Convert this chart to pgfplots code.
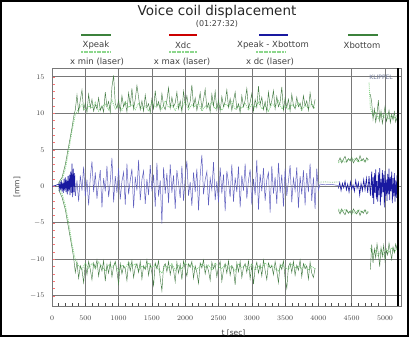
\documentclass[border=0pt]{standalone}
\usepackage{fontspec}
\setmainfont{DejaVu Sans}
\usepackage{pgfplots}
\pgfplotsset{compat=1.18}
\definecolor{dkgreen}{RGB}{70,125,70}
\definecolor{ltgreen}{RGB}{140,215,140}
\definecolor{legdkgreen}{RGB}{60,130,60}
\definecolor{bluetr}{RGB}{95,95,190}
\definecolor{bluedk}{RGB}{25,25,160}
\definecolor{gridgray}{RGB}{120,120,120}
\definecolor{klippel}{RGB}{110,120,150}
\begin{document}
\begin{tikzpicture}[x=1pt,y=1pt]
\useasboundingbox (0,0) rectangle (409,337);
\draw[line width=2.4pt] (1.2,1.2) rectangle (407.8,335.8);
% title
\node[font=\fontsize{13.5}{15}\selectfont, text=black!85] at (217,325) {Voice coil displacement};
\node[font=\fontsize{8}{9}\selectfont, text=black!75] at (217,313.5) {(01:27:32)};
% legend row 1
\draw[legdkgreen, line width=2.6pt] (81,302) -- (111,302);
\node[font=\fontsize{8.5}{9}\selectfont, text=black!75] at (96,292) {Xpeak};
\draw[red!80!black, line width=2.6pt] (169,302) -- (197,302);
\node[font=\fontsize{8.5}{9}\selectfont, text=black!75] at (183,292) {Xdc};
\draw[bluedk, line width=2.6pt] (259,302) -- (288,302);
\node[font=\fontsize{8.5}{9}\selectfont, text=black!75] at (273,292) {Xpeak - Xbottom};
\draw[legdkgreen, line width=2.6pt] (348,302) -- (378,302);
\node[font=\fontsize{8.5}{9}\selectfont, text=black!75] at (362,292) {Xbottom};
% legend row 2
\draw[ltgreen, line width=1.6pt, dash pattern=on 2pt off 0.6pt] (81,285) -- (111,285);
\node[font=\fontsize{8.5}{9}\selectfont, text=black!75] at (97,275) {x min (laser)};
\draw[ltgreen, line width=1.6pt, dash pattern=on 2pt off 0.6pt] (169,285) -- (197,285);
\node[font=\fontsize{8.5}{9}\selectfont, text=black!75] at (182,275) {x max (laser)};
\draw[ltgreen, line width=1.6pt, dash pattern=on 2pt off 0.6pt] (256,285) -- (285,285);
\node[font=\fontsize{8.5}{9}\selectfont, text=black!75] at (270,275) {x dc (laser)};
\begin{axis}[
  at={(52pt,31pt)}, anchor=south west,
  scale only axis, width=349pt, height=238pt,
  xmin=0, xmax=5240, ymin=-16.4, ymax=16.2,
  xtick={0,500,...,5000}, ytick={-15,-10,...,15},
  minor x tick num=4, minor y tick num=4,
  tick pos=lower, tick align=inside,
  major tick length=3pt, minor tick length=2.5pt,
  x tick style={black!70, line width=0.5pt},
  y tick style={red!55, line width=0.5pt},
  grid=major,
  major grid style={gridgray, line width=0.6pt},
  axis line style={gridgray, line width=0.8pt},
  ticklabel style={font=\fontsize{7.5}{9}\selectfont, text=black!75},
  xticklabel style={yshift=-6pt},
  yticklabel style={xshift=-4pt},
  scaled x ticks=false,
  /pgf/number format/set thousands separator={},
  xlabel={t [sec]},
  xlabel style={at={(axis description cs:0.52,0)}, anchor=north, yshift=-20pt, font=\fontsize{7.5}{9}\selectfont, text=black!75},
  ylabel={[mm]},
  ylabel style={at={(axis description cs:-0.1003,0.5)}, anchor=center, font=\fontsize{7.5}{9}\selectfont, text=black!75},
  clip=true,
]
% ---------- x max (laser), light green dotted
\addplot[ltgreen, line width=0.9pt, densely dotted] coordinates {
(100,0.3) (150,0.9) (200,2.4) (250,4.8) (300,7.6) (350,9.8) (400,10.6) (450,11.2) (500,10.4) (550,11.0) (600,10.7) (650,11.5) (700,10.3) (750,10.9) (800,11.3) (850,10.5) (900,11.8) (950,10.6) (1000,11.1) (1050,10.4) (1100,11.6) (1150,10.8) (1200,11.2) (1250,10.5) (1300,11.4) (1350,10.7) (1400,11.0) (1450,10.3) (1500,11.5) (1550,10.9) (1600,11.2) (1650,10.6) (1700,11.7) (1750,10.8) (1800,11.1) (1850,10.4) (1900,11.3) (1950,10.7) (2000,11.6) (2050,10.5) (2100,11.2) (2150,10.9) (2200,11.4) (2250,10.3) (2300,11.0) (2350,10.8) (2400,11.5) (2450,10.6) (2500,11.1) (2550,10.4) (2600,11.3) (2650,10.9) (2700,11.6) (2750,10.5) (2800,11.0) (2850,10.7) (2900,11.4) (2950,10.4) (3000,11.2) (3050,10.8) (3100,11.5) (3150,10.6) (3200,11.1) (3250,10.3) (3300,11.3) (3350,10.9) (3400,11.7) (3450,10.6) (3500,11.0) (3550,10.5) (3600,11.2) (3650,10.8) (3700,11.4) (3750,10.4) (3800,11.1) (3850,10.7) (3900,11.3) (3950,10.6)
};
% ---------- x min (laser)
\addplot[ltgreen, line width=0.9pt, densely dotted] coordinates {
(100,-0.3) (150,-1.0) (200,-2.6) (250,-5.0) (300,-7.9) (350,-10.1) (400,-10.9) (450,-11.4) (500,-10.5) (550,-11.2) (600,-10.6) (650,-11.3) (700,-10.4) (750,-11.0) (800,-11.6) (850,-10.7) (900,-11.1) (950,-10.5) (1000,-11.7) (1050,-10.8) (1100,-11.2) (1150,-10.4) (1200,-11.0) (1250,-10.6) (1300,-11.5) (1350,-10.9) (1400,-11.3) (1450,-10.5) (1500,-11.1) (1550,-10.7) (1600,-11.4) (1650,-11.9) (1700,-10.8) (1750,-11.2) (1800,-10.6) (1850,-11.5) (1900,-10.9) (1950,-11.3) (2000,-10.5) (2050,-11.0) (2100,-10.7) (2150,-11.4) (2200,-11.2) (2250,-10.6) (2300,-11.1) (2350,-10.8) (2400,-11.5) (2450,-10.5) (2500,-11.0) (2550,-11.3) (2600,-10.7) (2650,-11.2) (2700,-10.9) (2750,-11.6) (2800,-10.6) (2850,-11.1) (2900,-10.8) (2950,-11.4) (3000,-10.6) (3050,-11.5) (3100,-10.9) (3150,-11.2) (3200,-10.5) (3250,-11.0) (3300,-10.8) (3350,-11.3) (3400,-11.6) (3450,-10.7) (3500,-11.1) (3550,-11.4) (3600,-10.6) (3650,-11.2) (3700,-10.9) (3750,-11.3) (3800,-10.7) (3850,-11.5) (3900,-11.0) (3950,-11.3)
};
% ---------- Xpeak, dark green
\addplot[dkgreen, line width=0.45pt] coordinates {
(100,0.5) (150,1.2) (200,3.0) (250,5.5) (300,8.0) (325,9.5) (350,10.5) (375,12.5) (400,10.2) (425,11.8) (450,13.2) (475,10.5) (500,11.4) (525,10.1) (550,12.6) (575,10.8) (600,11.9) (625,10.3) (650,11.2) (675,10.6) (700,12.1) (725,10.4) (750,11.0) (775,10.2) (800,12.9) (825,10.9) (850,11.6) (875,10.1) (900,13.6) (925,15.2) (950,11.3) (975,10.7) (1000,11.8) (1025,10.3) (1050,12.4) (1075,10.9) (1100,11.5) (1125,10.2) (1150,12.8) (1175,11.1) (1200,13.4) (1225,10.6) (1250,11.9) (1275,13.8) (1300,12.2) (1325,10.5) (1350,11.7) (1375,10.3) (1400,12.5) (1425,10.8) (1450,11.3) (1475,10.1) (1500,12.0) (1525,10.6) (1550,13.1) (1575,10.9) (1600,11.6) (1625,10.4) (1650,12.7) (1675,11.0) (1700,10.5) (1725,11.8) (1750,13.5) (1775,10.7) (1800,12.2) (1825,10.9) (1850,11.4) (1875,12.9) (1900,10.6) (1925,11.7) (1950,10.2) (1975,13.0) (2000,11.2) (2025,12.4) (2050,10.8) (2075,11.6) (2100,13.9) (2125,10.9) (2150,12.1) (2175,10.4) (2200,11.5) (2225,12.8) (2250,10.6) (2275,11.9) (2300,13.3) (2325,10.7) (2350,11.4) (2375,10.2) (2400,12.6) (2425,11.0) (2450,13.0) (2475,10.5) (2500,11.8) (2525,10.3) (2550,12.3) (2575,10.9) (2600,11.6) (2625,13.2) (2650,10.8) (2675,12.0) (2700,10.4) (2725,11.7) (2750,12.9) (2775,10.6) (2800,11.3) (2825,10.1) (2850,12.4) (2875,10.9) (2900,11.8) (2925,13.4) (2950,10.7) (2975,11.5) (3000,12.7) (3025,10.3) (3050,11.9) (3075,10.8) (3100,13.7) (3125,11.2) (3150,12.2) (3175,10.5) (3200,11.6) (3225,10.2) (3250,12.9) (3275,11.0) (3300,11.7) (3325,13.1) (3350,10.6) (3375,12.3) (3400,10.9) (3425,11.5) (3450,13.6) (3475,10.4) (3500,12.1) (3525,10.8) (3550,11.9) (3575,10.3) (3600,12.6) (3625,11.1) (3650,10.6) (3675,12.2) (3700,10.9) (3725,11.4) (3750,10.5) (3775,12.4) (3800,11.0) (3825,11.7) (3850,10.4) (3875,12.8) (3900,11.2) (3925,10.7) (3950,11.9)
};
% ---------- Xbottom, dark green
\addplot[dkgreen, line width=0.45pt] coordinates {
(100,-0.5) (150,-1.5) (200,-3.2) (250,-5.8) (300,-8.4) (325,-9.8) (350,-11.8) (375,-10.4) (400,-12.6) (425,-10.9) (450,-11.5) (475,-13.2) (500,-10.6) (525,-12.1) (550,-10.3) (575,-11.4) (600,-12.8) (625,-10.5) (650,-11.2) (675,-10.1) (700,-12.3) (725,-10.8) (750,-11.6) (775,-10.2) (800,-13.0) (825,-10.7) (850,-11.9) (875,-10.4) (900,-12.4) (925,-11.0) (950,-10.3) (975,-11.7) (1000,-13.4) (1025,-10.6) (1050,-12.0) (1075,-10.9) (1100,-11.3) (1125,-12.9) (1150,-10.4) (1175,-11.6) (1200,-10.2) (1225,-12.5) (1250,-11.1) (1275,-10.6) (1300,-11.8) (1325,-10.3) (1350,-12.7) (1375,-10.9) (1400,-11.4) (1425,-10.1) (1450,-12.2) (1475,-10.7) (1500,-11.9) (1525,-13.6) (1550,-10.5) (1575,-11.3) (1600,-10.2) (1625,-12.6) (1650,-14.3) (1675,-11.0) (1700,-10.6) (1725,-11.7) (1750,-10.3) (1775,-12.1) (1800,-10.8) (1825,-11.5) (1850,-13.1) (1875,-10.4) (1900,-11.9) (1925,-10.7) (1950,-12.8) (1975,-10.2) (2000,-11.4) (2025,-12.3) (2050,-10.6) (2075,-11.1) (2100,-10.3) (2125,-12.6) (2150,-10.9) (2175,-11.8) (2200,-13.3) (2225,-10.5) (2250,-11.2) (2275,-10.1) (2300,-12.0) (2325,-10.8) (2350,-11.6) (2375,-12.9) (2400,-10.4) (2425,-11.3) (2450,-10.7) (2475,-12.4) (2500,-11.0) (2525,-10.3) (2550,-13.0) (2575,-11.5) (2600,-10.6) (2625,-11.9) (2650,-10.2) (2675,-12.2) (2700,-10.9) (2725,-11.4) (2750,-13.5) (2775,-10.5) (2800,-11.7) (2825,-10.3) (2850,-12.5) (2875,-11.1) (2900,-10.6) (2925,-11.8) (2950,-10.2) (2975,-12.7) (3000,-10.8) (3025,-13.4) (3050,-11.3) (3075,-10.4) (3100,-11.9) (3125,-10.7) (3150,-12.3) (3175,-10.1) (3200,-11.5) (3225,-12.8) (3250,-10.5) (3275,-11.2) (3300,-10.9) (3325,-12.1) (3350,-10.3) (3375,-11.6) (3400,-13.2) (3425,-10.7) (3450,-11.4) (3475,-10.2) (3500,-12.6) (3525,-14.0) (3550,-11.0) (3575,-10.5) (3600,-11.8) (3625,-10.3) (3650,-12.2) (3675,-10.8) (3700,-11.5) (3725,-10.1) (3750,-12.4) (3775,-10.6) (3800,-11.3) (3825,-10.9) (3850,-12.7) (3875,-10.4) (3900,-11.9) (3925,-12.5) (3950,-11.2)
};
% ---------- middle segment (4300-4750)
\addplot[ltgreen, line width=0.9pt, densely dotted] coordinates {
(4300,3.2) (4350,3.6) (4400,3.3) (4450,3.7) (4500,3.4) (4550,3.8) (4600,3.3) (4650,3.6) (4700,3.4) (4750,3.7)
};
\addplot[dkgreen, line width=0.45pt] coordinates {
(4300,3.4) (4325,3.9) (4350,3.2) (4375,3.7) (4400,4.1) (4425,3.3) (4450,3.8) (4475,3.5) (4500,4.0) (4525,3.2) (4550,3.6) (4575,3.9) (4600,3.4) (4625,4.2) (4650,3.5) (4675,3.8) (4700,3.3) (4725,3.9) (4750,3.6)
};
\addplot[ltgreen, line width=0.9pt, densely dotted] coordinates {
(4300,-3.1) (4350,-3.5) (4400,-3.2) (4450,-3.6) (4500,-3.3) (4550,-3.7) (4600,-3.2) (4650,-3.5) (4700,-3.3) (4750,-3.6)
};
\addplot[dkgreen, line width=0.45pt] coordinates {
(4300,-3.3) (4325,-3.8) (4350,-3.1) (4375,-3.6) (4400,-3.9) (4425,-3.2) (4450,-3.7) (4475,-3.4) (4500,-3.9) (4525,-3.1) (4550,-3.5) (4575,-3.8) (4600,-3.3) (4625,-4.0) (4650,-3.4) (4675,-3.7) (4700,-3.2) (4725,-3.8) (4750,-3.5)
};
% ---------- last segment (4780-5190)
\addplot[ltgreen, line width=0.9pt, densely dotted] coordinates {
(4760,14.2) (4780,10.8) (4820,9.6) (4860,10.2) (4900,9.3) (4940,10.0) (4980,9.4) (5020,9.9) (5060,9.2) (5100,9.8) (5140,9.3) (5180,9.7)
};
\addplot[dkgreen, line width=0.45pt] coordinates {
(4780,12.6) (4800,11.5) (4820,9.2) (4840,10.6) (4860,8.8) (4880,9.9) (4900,11.8) (4920,9.0) (4940,10.3) (4960,8.6) (4980,9.7) (5000,10.9) (5020,8.9) (5040,9.5) (5060,10.4) (5080,8.7) (5100,9.8) (5120,9.1) (5140,10.2) (5160,8.8) (5180,9.4)
};
\addplot[ltgreen, line width=0.9pt, densely dotted] coordinates {
(4780,-8.5) (4820,-9.4) (4860,-8.8) (4900,-9.6) (4940,-8.7) (4980,-9.3) (5020,-8.6) (5060,-9.1) (5100,-8.4) (5140,-9.0) (5180,-8.5)
};
\addplot[dkgreen, line width=0.45pt] coordinates {
(4780,-11.4) (4800,-8.0) (4820,-10.5) (4840,-8.6) (4860,-9.8) (4880,-7.9) (4900,-9.2) (4920,-11.0) (4940,-8.4) (4960,-9.6) (4980,-8.1) (5000,-10.2) (5020,-8.8) (5040,-9.4) (5060,-7.8) (5080,-8.9) (5100,-10.0) (5120,-8.3) (5140,-9.1) (5160,-7.9) (5180,-8.6)
};
% ---------- x dc (laser)
\addplot[ltgreen!70!gray, line width=0.8pt, densely dotted] coordinates {
(3990,0.55) (4100,0.6) (4200,0.55) (4300,0.6)
};
% ---------- blue trace
\addplot[bluedk, line width=0.6pt] coordinates {
(0,0) (50,0.1) (100,0.3) (110,-0.4) (120,0.6) (130,-0.5) (140,0.8) (150,-0.7) (160,0.5) (170,-0.9) (180,1.0) (190,-0.6) (200,1.2) (210,-0.8) (220,0.9) (230,-1.1) (240,1.4) (250,-0.7) (260,1.6) (270,-1.2) (280,2.0) (290,-0.9) (300,3.1) (310,-1.5) (320,2.4) (330,-0.8) (340,1.8) (350,-1.3)
};
\addplot[bluetr, line width=0.5pt] coordinates {
(350,-1.3) (375,0.8) (400,-2.1) (425,1.5) (450,-0.6) (475,2.7) (500,-1.4) (525,0.9) (550,-2.6) (575,1.2) (600,3.4) (625,-0.8) (650,1.9) (675,-1.7) (700,0.5) (725,2.2) (750,-2.9) (775,1.1) (800,-0.7) (825,2.8) (850,-1.5) (875,0.6) (900,3.9) (925,-2.2) (950,1.4) (975,-0.9) (1000,2.5) (1025,-1.8) (1050,0.7) (1075,1.9) (1100,-2.5) (1125,3.1) (1150,-1.1) (1175,0.8) (1200,2.4) (1225,-3.0) (1250,1.3) (1275,-0.6) (1300,3.6) (1325,-1.9) (1350,0.9) (1375,2.1) (1400,-2.4) (1425,1.0) (1450,-1.2) (1475,2.9) (1500,-0.7) (1525,1.6) (1550,-2.8) (1575,3.2) (1600,-1.4) (1625,0.8) (1650,-5.1) (1675,2.6) (1700,-1.0) (1725,1.8) (1750,-2.3) (1775,3.0) (1800,-0.9) (1825,1.5) (1850,-3.1) (1875,2.2) (1900,0.4) (1925,-1.6) (1950,2.8) (1975,-2.0) (2000,1.2) (2025,3.5) (2050,-1.3) (2075,0.6) (2100,-2.7) (2125,1.9) (2150,-0.8) (2175,2.4) (2200,-3.3) (2225,1.4) (2250,4.3) (2275,-1.1) (2300,0.9) (2325,2.0) (2350,-2.6) (2375,1.1) (2400,-0.5) (2425,3.3) (2450,-1.9) (2475,0.7) (2500,-2.2) (2525,2.6) (2550,-1.0) (2575,1.6) (2600,-3.4) (2625,2.1) (2650,0.5) (2675,-1.5) (2700,3.0) (2725,-2.1) (2750,1.2) (2775,-0.8) (2800,2.7) (2825,-2.9) (2850,1.5) (2875,-0.6) (2900,3.1) (2925,-1.7) (2950,0.8) (2975,2.3) (3000,-2.5) (3025,1.0) (3050,-1.2) (3075,3.6) (3100,-3.2) (3125,1.7) (3150,-0.7) (3175,2.5) (3200,-2.0) (3225,0.9) (3250,1.9) (3275,-3.6) (3300,2.8) (3325,-1.0) (3350,1.3) (3375,-2.4) (3400,3.2) (3425,-0.9) (3450,1.6) (3475,-2.8) (3500,2.4) (3525,-1.3) (3550,0.7) (3575,2.9) (3600,-2.2) (3625,1.1) (3650,-0.6) (3675,2.6) (3700,-3.0) (3725,1.4) (3750,-1.1) (3775,2.2) (3800,-2.6) (3825,1.8) (3850,-0.8) (3875,3.1) (3900,-2.0) (3925,1.2) (3950,-3.1) (3975,2.4) (4000,-0.5) (4025,0.3) (4100,0.2) (4200,0.25) (4300,0.1)
};
\addplot[bluedk, line width=0.6pt] coordinates {
(4300,-0.3) (4320,0.5) (4340,-0.6) (4360,0.4) (4380,-0.2) (4400,0.7) (4420,-0.5) (4440,0.3) (4460,-0.8) (4480,0.6) (4500,-0.4) (4520,0.2) (4540,-0.7) (4560,0.8) (4580,-0.3) (4600,0.5) (4620,-1.2) (4640,0.4) (4660,-0.6) (4680,0.9) (4700,-0.5) (4720,1.1) (4740,-0.9) (4760,1.4) (4780,-1.3) (4800,2.0) (4810,-1.6) (4820,1.2) (4830,-2.4) (4840,1.8) (4850,-0.9) (4860,2.3) (4870,-1.8) (4880,0.7) (4890,-2.1) (4900,1.9) (4910,-1.2) (4920,2.5) (4930,-2.6) (4940,1.0) (4950,-1.5) (4960,2.2) (4970,-0.8) (4980,1.6) (4990,-2.9) (5000,2.1) (5010,-1.3) (5020,0.9) (5030,-2.0) (5040,1.7) (5050,-1.1) (5060,2.4) (5070,-1.9) (5080,1.3) (5090,-0.7) (5100,2.0) (5110,-2.3) (5120,1.1) (5130,-1.4) (5140,1.8) (5150,-2.1) (5160,0.8) (5170,-1.6) (5180,1.5) (5190,-0.9)
};
% ---------- thick black marker line
\addplot[black, line width=2.4pt] coordinates {(5195,-16.4) (5195,16.2)};
\node[anchor=east, font=\fontsize{6}{7}\selectfont, text=klippel] at (axis cs:5170,14.9) {KLIPPEL};
\end{axis}
\end{tikzpicture}
\end{document}
